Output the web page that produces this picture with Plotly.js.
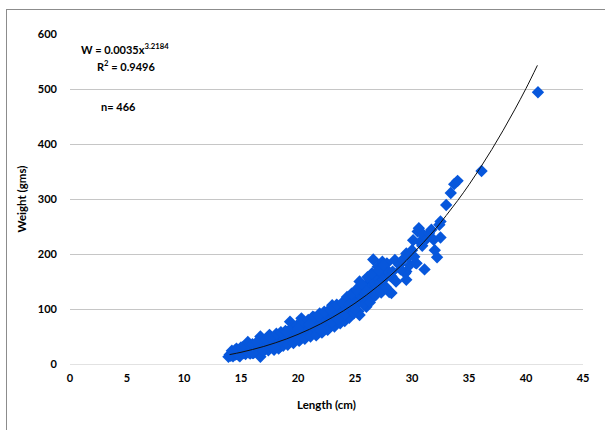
<!DOCTYPE html>
<html>
<head>
<meta charset="utf-8">
<script src="https://cdn.plot.ly/plotly-3.0.1.min.js"></script>
<style>
  html, body { margin: 0; padding: 0; background: #ffffff; }
  #wrap { position: relative; width: 605px; height: 430px; overflow: hidden; }
  #chart { width: 605px; height: 430px; }
  #frame { position: absolute; left: 6px; top: 9px; width: 620px; height: 440px;
           border-left: 1px solid #8c8c8c; border-top: 1px solid #8c8c8c; pointer-events: none; }
</style>
</head>
<body>
<div id="wrap">
  <div id="chart"></div>
  <div id="frame"></div>
</div>
<script>
// Observed fish samples: length (cm) and weight (g)
const lengthCm = [
  13.9,14.0,14.1,14.2,14.3,14.4,14.5,14.5,14.6,14.7,14.8,14.9,15.0,15.0,15.1,15.2,15.3,15.4,15.5,15.5,
  15.6,15.6,15.7,15.8,15.9,16.0,16.0,16.1,16.2,16.3,16.4,16.5,16.5,16.6,16.7,16.7,16.7,16.8,16.9,17.0,
  17.0,17.1,17.2,17.3,17.4,17.5,17.5,17.6,17.7,17.8,17.9,18.0,18.0,18.1,18.2,18.3,18.4,18.4,18.5,18.6,
  18.7,18.8,18.9,19.0,19.0,19.1,19.2,19.3,19.3,19.4,19.5,19.5,19.6,19.7,19.8,19.8,19.9,20.0,20.0,20.1,
  20.2,20.3,20.3,20.4,20.5,20.5,20.6,20.7,20.8,20.8,20.9,21.0,21.0,21.1,21.2,21.3,21.3,21.4,21.5,21.5,
  21.6,21.7,21.8,21.9,21.9,22.0,22.0,22.1,22.2,22.3,22.4,22.5,22.5,22.6,22.7,22.8,22.9,23.0,23.0,23.1,
  23.1,23.2,23.3,23.4,23.5,23.5,23.6,23.7,23.8,23.9,24.0,24.0,24.1,24.2,24.3,24.4,24.5,24.6,24.6,24.7,
  24.8,24.9,25.0,25.1,25.2,25.3,25.4,25.4,25.4,25.5,25.6,25.7,25.8,25.9,26.0,26.0,26.0,26.1,26.2,26.3,
  26.3,26.4,26.5,26.6,26.6,26.7,26.8,26.9,27.0,27.0,27.1,27.2,27.3,27.4,27.5,27.6,27.8,27.8,28.0,28.1,
  28.2,28.2,28.5,28.9,29.4,29.5,29.5,29.5,29.8,30.0,30.1,30.3,30.4,30.5,30.6,30.7,31.0,31.1,31.3,31.7,
  32.0,32.2,32.4,32.5,32.5,33.0,33.4,33.7,34.0,36.1,41.05,
  14.2,14.6,14.9,15.2,15.4,15.8,16.0,16.2,16.4,16.9,17.2,17.4,17.6,17.9,18.1,18.3,18.5,18.7,18.9,19.1,
  19.4,19.6,19.9,20.1,20.4,20.6,20.9,21.1,21.4,21.6,21.8,22.1,22.3,22.6,22.8,23.2,23.4,23.7,23.9,24.1,
  24.3,24.5,24.7,24.9,25.1,25.3,25.6,25.8,26.1,26.3,26.5,26.8,27.1,27.3,27.5,27.7,28.3,28.6,29.0,29.2,
  29.7,30.2,30.9,31.5,31.9,22.0,21.0,20.0,19.0,18.0,17.0,16.0,15.0,23.0,24.0,25.0,26.0,24.5,23.5
];
const weightG = [
  13,17,15,19,14,20,25,17,18,22,16,21,24,19,27,20,23,18,29,22,
  40,25,21,28,24,31,26,20,29,35,27,24,32,38,13,50,29,33,27,36,
  30,42,33,28,38,53,34,31,40,36,30,44,38,34,48,40,31,43,37,50,
  42,46,39,52,45,41,55,77,47,43,58,50,46,54,60,48,52,57,50,63,
  45,83,55,60,52,66,58,62,74,55,68,60,65,57,71,86,64,60,75,68,
  63,79,70,92,66,76,70,82,68,78,73,88,80,72,85,78,94,107,84,92,
  80,88,98,83,95,90,102,87,100,94,110,97,90,105,100,115,96,116,108,102,
  120,110,105,118,112,128,150,125,89,116,132,120,138,128,141,104,124,135,146,153,
  130,140,120,190,135,150,144,162,177,140,155,148,165,186,153,174,183,171,131,160,
  159,129,189,180,165,201,168,153,180,207,225,184,183,241,247,222,235,172,228,244,
  207,194,253,259,230,289,311,327,333,351,494,
  24,28,14,31,26,19,36,22,40,22,45,25,48,26,55,28,58,33,60,35,
  65,38,70,42,75,46,80,50,85,52,88,57,95,62,100,68,108,74,112,78,
  122,84,128,92,135,96,145,108,158,112,165,125,170,130,180,140,168,150,172,190,
  195,195,215,238,226,62,72,64,58,30,24,20,30,76,88,100,132,108,82
];
// Fitted power trendline as drawn (W = 0.0035 x^3.2184)
const trendLength = [14,15,16,17,18,19,20,21,22,23,24,25,26,27,28,29,30,31,32,33,34,35,36,37,38,39,40,41];
const trendWeight = [17.1,21.3,26.3,31.9,38.4,45.6,53.9,63.0,73.2,84.5,96.9,110.5,125.3,141.5,159,178,199,221,244,270,297,326,357,390,425,462,501,543];
const xTicks = [0,5,10,15,20,25,30,35,40,45];
const yTicks = [0,100,200,300,400,500,600];

const font = "Lato, 'Open Sans', 'DejaVu Sans', sans-serif";

const traces = [
  {
    type: 'scatter', mode: 'markers', x: lengthCm, y: weightG, name: 'Observed',
    marker: { symbol: 'diamond', size: 9.5, color: '#0757dc', line: { width: 0 } },
    hoverinfo: 'x+y'
  },
  {
    type: 'scatter', mode: 'lines', x: trendLength, y: trendWeight, name: 'Power fit',
    line: { color: '#111111', width: 1, shape: 'spline' }, hoverinfo: 'skip'
  }
];

const layout = {
  width: 605, height: 430,
  margin: { l: 70, r: 22, t: 34, b: 66 },
  paper_bgcolor: '#ffffff', plot_bgcolor: '#ffffff',
  showlegend: false,
  font: { family: font, size: 11, color: '#000000' },
  xaxis: {
    range: [0, 45], tickvals: xTicks, ticktext: xTicks.map(String),
    showgrid: false, zeroline: false, showline: false, ticks: '',
    ticklabelstandoff: 6,
    tickfont: { family: font, size: 11, color: '#000000', weight: 'bold' },
    title: { text: 'Length (cm)', font: { family: font, size: 11.5, color: '#000000', weight: 'bold' }, standoff: 17 }
  },
  yaxis: {
    range: [0, 600], tickvals: yTicks, ticktext: yTicks.map(String),
    showgrid: true, gridcolor: '#c6c6c6', gridwidth: 1,
    zeroline: true, zerolinecolor: '#e2e2e2', zerolinewidth: 1,
    showline: false, ticks: '',
    ticklabelstandoff: 12,
    tickfont: { family: font, size: 11, color: '#000000', weight: 'bold' },
    title: { text: 'Weight (gms)', font: { family: font, size: 11.5, color: '#000000', weight: 'bold' }, standoff: 8 }
  },
  annotations: [
    { xref: 'x', yref: 'y', x: 0.8, y: 573, xanchor: 'left', yanchor: 'middle', showarrow: false,
      text: 'W = 0.0035x<sup>3.2184</sup>', font: { family: font, size: 11, color: '#000000', weight: 'bold' } },
    { xref: 'x', yref: 'y', x: 2.2, y: 543, xanchor: 'left', yanchor: 'middle', showarrow: false,
      text: 'R<sup>2</sup> = 0.9496', font: { family: font, size: 11, color: '#000000', weight: 'bold' } },
    { xref: 'x', yref: 'y', x: 2.5, y: 468, xanchor: 'left', yanchor: 'middle', showarrow: false,
      text: 'n= 466', font: { family: font, size: 11, color: '#000000', weight: 'bold' } }
  ]
};

Plotly.newPlot('chart', traces, layout, { displayModeBar: false, staticPlot: true });
</script>
</body>
</html>
